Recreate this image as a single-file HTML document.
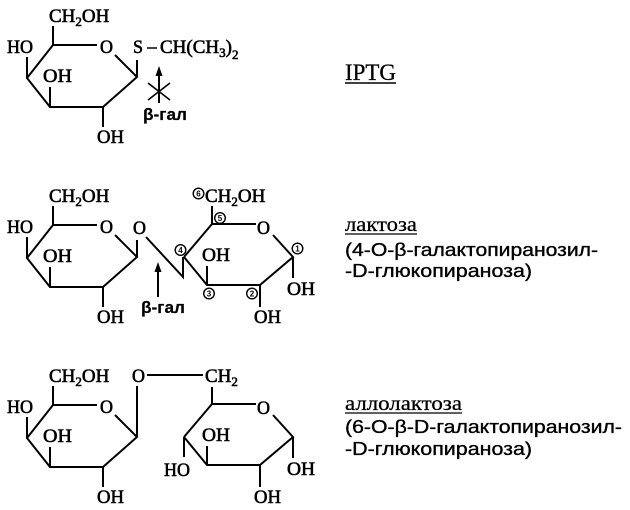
<!DOCTYPE html>
<html>
<head>
<meta charset="utf-8">
<style>
html,body{margin:0;padding:0;background:#fff;}
svg{display:block;}
.a{font-family:"Liberation Serif",serif;font-size:19px;fill:#000;stroke:#000;stroke-width:0.6;}
.s{font-size:13px;}
.b{font-family:"Liberation Sans",sans-serif;font-weight:bold;font-size:17px;fill:#000;stroke:#000;stroke-width:0.2;}
.n{font-family:"Liberation Sans",sans-serif;font-weight:bold;font-size:8px;fill:#000;text-anchor:middle;}
.lt{font-family:"Liberation Serif",serif;font-size:20px;fill:#000;stroke:#000;stroke-width:0.3;}
.ls{font-family:"Liberation Sans",sans-serif;font-size:18px;fill:#000;stroke:#000;stroke-width:0.35;}
.bond{fill:none;stroke:#000;stroke-width:2;stroke-linecap:butt;stroke-linejoin:miter;}
.c{fill:#fff;stroke:#000;stroke-width:1.4;}
</style>
</head>
<body>
<svg width="630" height="510" viewBox="0 0 630 510" xmlns="http://www.w3.org/2000/svg">
<defs>
<g id="lring">
  <path class="bond" d="M53,45 L97,45 M115,55 L137,77 L103,107 L50,107 L27,78 L53,45 M53,45 L53,26 M27,78 L27,57 M50,107 L50,87 M103,107 L103,127"/>
  <text class="a" x="49" y="22">CH<tspan class="s" dy="4">2</tspan><tspan dy="-4">OH</tspan></text>
  <text class="a" x="7" y="53" textLength="26" lengthAdjust="spacingAndGlyphs">HO</text>
  <text class="a" x="43" y="82" textLength="29" lengthAdjust="spacingAndGlyphs">OH</text>
  <text class="a" x="100" y="53" textLength="13" lengthAdjust="spacingAndGlyphs">O</text>
  <text class="a" x="97" y="143" textLength="27" lengthAdjust="spacingAndGlyphs">OH</text>
</g>
<g id="rring">
  <path class="bond" d="M184,257 L212,224 L256,224 M273,235 L293,257 L260,285 L207,285 L184,257 M293,257 L293,278 M260,285 L260,307 M207,285 L207,266"/>
  <text class="a" x="257" y="234" textLength="13" lengthAdjust="spacingAndGlyphs">O</text>
  <text class="a" x="202" y="261" textLength="28" lengthAdjust="spacingAndGlyphs">OH</text>
  <text class="a" x="287" y="295" textLength="28" lengthAdjust="spacingAndGlyphs">OH</text>
  <text class="a" x="254" y="323" textLength="27" lengthAdjust="spacingAndGlyphs">OH</text>
</g>
</defs>

<!-- IPTG -->
<use href="#lring"/>
<path class="bond" d="M137,77 L137,60"/>
<text class="a" x="133" y="53" textLength="10" lengthAdjust="spacingAndGlyphs">S</text>
<path class="bond" d="M147,48 L157,48" style="stroke-width:1.5"/>
<text class="a" x="160" y="53">CH(CH<tspan class="s" dy="4">3</tspan><tspan dy="-4">)</tspan><tspan class="s" dy="6">2</tspan></text>
<path class="bond" d="M159,75 L159,103"/>
<polygon points="159,66 155.5,76 162.5,76" fill="#000"/>
<path class="bond" d="M148,83 L170,100 M148,100 L170,83" style="stroke-width:1.6"/>
<text class="b" x="143" y="120" textLength="44" lengthAdjust="spacingAndGlyphs">β-гал</text>

<text class="lt" x="345" y="80" style="font-size:23px" textLength="51" lengthAdjust="spacingAndGlyphs">IPTG</text>
<line x1="345" y1="83" x2="396" y2="83" stroke="#000" stroke-width="1.5"/>

<!-- Lactose -->
<use href="#lring" transform="translate(0,180)"/>
<path class="bond" d="M137,257 L137,240"/>
<text class="a" x="133" y="234" textLength="13" lengthAdjust="spacingAndGlyphs">O</text>
<path class="bond" d="M146,237 L183,277 L183,257"/>
<use href="#rring"/>
<path class="bond" d="M212,224 L212,206"/>
<text class="a" x="205" y="202">CH<tspan class="s" dy="4">2</tspan><tspan dy="-4">OH</tspan></text>
<circle class="c" cx="198.5" cy="193.5" r="5.3"/><text class="n" x="198.5" y="196.5">6</text>
<circle class="c" cx="220" cy="218" r="5.3"/><text class="n" x="220" y="221">5</text>
<circle class="c" cx="180.5" cy="250" r="5.3"/><text class="n" x="180.5" y="253">4</text>
<circle class="c" cx="209" cy="293.5" r="5.3"/><text class="n" x="209" y="296.5">3</text>
<circle class="c" cx="252" cy="293.5" r="5.3"/><text class="n" x="252" y="296.5">2</text>
<circle class="c" cx="297.5" cy="248.5" r="5.3"/><text class="n" x="297.5" y="251.5">1</text>
<path class="bond" d="M158,271 L158,297"/>
<polygon points="158,262 154.5,272 161.5,272" fill="#000"/>
<text class="b" x="141" y="313" textLength="44" lengthAdjust="spacingAndGlyphs">β-гал</text>

<text class="lt" x="345" y="231" textLength="72" lengthAdjust="spacingAndGlyphs">лактоза</text>
<line x1="345" y1="234" x2="417" y2="234" stroke="#000" stroke-width="1.3"/>
<text class="ls" x="345" y="256" textLength="253" lengthAdjust="spacingAndGlyphs">(4-O-β-галактопиранозил-</text>
<text class="ls" x="345" y="277" textLength="187" lengthAdjust="spacingAndGlyphs">-D-глюкопираноза)</text>

<!-- Allolactose -->
<use href="#lring" transform="translate(0,360)"/>
<path class="bond" d="M137,437 L137,386"/>
<text class="a" x="132" y="382" textLength="13" lengthAdjust="spacingAndGlyphs">O</text>
<path class="bond" d="M147,375 L203,375"/>
<text class="a" x="205" y="382">CH<tspan class="s" dy="4">2</tspan></text>
<use href="#rring" transform="translate(0,180)"/>
<path class="bond" d="M212,404 L212,387 M184,437 L184,457"/>
<text class="a" x="164" y="476" textLength="26" lengthAdjust="spacingAndGlyphs">HO</text>

<text class="lt" x="345" y="410" textLength="117" lengthAdjust="spacingAndGlyphs">аллолактоза</text>
<line x1="345" y1="413" x2="462" y2="413" stroke="#000" stroke-width="1.3"/>
<text class="ls" x="345" y="433" textLength="277" lengthAdjust="spacingAndGlyphs">(6-O-β-D-галактопиранозил-</text>
<text class="ls" x="345" y="455" textLength="187" lengthAdjust="spacingAndGlyphs">-D-глюкопираноза)</text>
</svg>
</body>
</html>
